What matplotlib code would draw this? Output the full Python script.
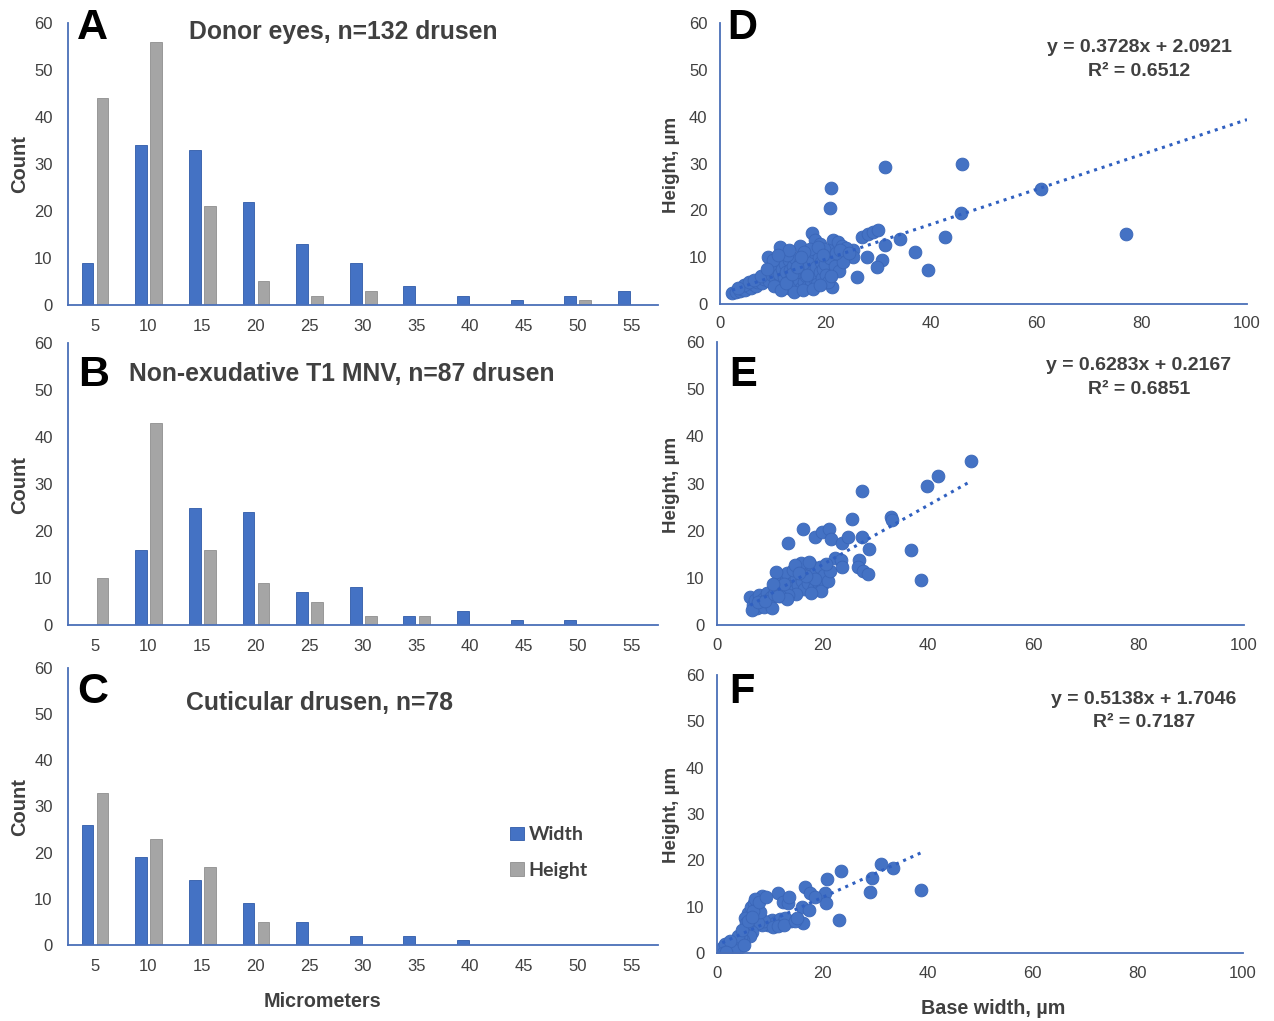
import matplotlib
matplotlib.use("Agg")
import matplotlib.pyplot as plt
import numpy as np

W, H = 1274, 1021

# ---------------- data ----------------
bins = [5, 10, 15, 20, 25, 30, 35, 40, 45, 50, 55]

a_width = [9, 34, 33, 22, 13, 9, 4, 2, 1, 2, 3]
a_height = [44, 56, 21, 5, 2, 3, 0, 0, 0, 1, 0]
b_width = [0, 16, 25, 24, 7, 8, 2, 3, 1, 1, 0]
b_height = [10, 43, 16, 9, 5, 2, 2, 0, 0, 0, 0]
c_width = [26, 19, 14, 9, 5, 2, 2, 1, 0, 0, 0]
c_height = [33, 23, 17, 5, 0, 0, 0, 0, 0, 0, 0]

bar_titles = ["Donor eyes, n=132 drusen",
              "Non-exudative T1 MNV, n=87 drusen",
              "Cuticular drusen, n=78"]

d_pts = [(31.3,29.3),(45.9,29.9),(21.1,24.8),(20.9,20.5),(45.7,19.4),(42.7,14.3),(39.5,7.3),
         (37.0,11.0),(34.2,13.9),(31.3,12.6),(30.7,9.4),(29.8,7.9),(27.9,10.0),(26.0,5.8),
         (25.2,11.5),(25.2,10.0),(27.0,14.2),(28.0,15.0),(29.0,15.4),(30.0,15.8),(17.5,15.2),
         (11.4,12.2),(15.2,12.4),(18.0,13.7),(19.0,12.8),(21.4,13.7),(22.3,13.2),(23.2,12.3),
         (20.5,11.5),(21.3,3.7),(9.1,10.0),(60.9,24.6),(77.0,15.0),
         (2.3,2.4),(3.0,2.6),(3.8,2.8),(4.2,3.3),(4.8,3.0),(5.3,3.8),(5.8,3.4),(6.2,4.2),
         (6.8,3.9),(7.1,4.6),(7.5,5.0),(8.0,4.4),(8.4,5.3),(8.8,5.8),(9.3,5.0),(4.5,4.0),
         (5.5,4.6),(6.5,5.2),(7.8,6.0),(3.5,3.5),
         (9.8,6.2),(10.2,7.0),(10.5,5.5),(10.8,8.0),(11.0,4.2),(11.2,6.5),(11.5,9.0),(11.8,7.5),
         (12.0,3.5),(12.2,5.8),(12.4,8.5),(12.6,6.8),(12.9,4.8),(13.1,9.5),(13.3,7.2),(13.5,3.2),
         (13.7,5.5),(13.9,8.2),(14.1,6.0),(14.3,9.8),(14.5,4.0),(14.7,7.6),(14.9,5.2),(15.1,8.8),
         (15.3,3.4),(15.5,6.6),(15.7,9.2),(15.9,4.6),(16.1,7.9),(16.3,5.9),(16.5,10.5),(16.7,3.8),
         (16.9,8.4),(17.1,6.3),(17.3,4.9),(17.5,9.6),(17.7,7.1),(17.9,11.0),(18.1,5.4),(18.3,8.0),
         (18.5,4.2),(18.7,10.1),(18.9,6.8),(19.1,9.0),(19.3,5.6),(19.5,7.5),(19.8,11.8),(20.0,8.6),
         (20.2,6.2),(20.4,4.6),(10.0,9.5),(12.8,10.5),(14.0,2.6),(15.8,2.9),(17.0,11.8),(18.6,12.2),
         (20.8,9.8),(21.8,8.2),(22.5,7.0),(23.4,9.0),(24.0,12.0),(22.0,10.8),(16.0,11.2),(13.0,11.5),
         (11.0,10.5),(9.0,7.5),(10.3,3.8),(11.6,2.9),(12.5,4.4),(13.6,6.4),(14.6,8.0),(15.4,10.0),
         (16.6,6.1),(17.6,3.3),(19.0,4.0),(19.6,10.5),(21.0,6.0),(22.8,11.6),(24.5,10.8)]

e_pts = [(48.2,34.8),(41.9,31.6),(39.8,29.5),(27.5,28.4),(33.0,22.9),(33.2,22.3),(25.6,22.5),
         (36.8,15.9),(38.7,9.5),(16.3,20.4),(13.5,17.4),(18.6,18.7),(19.9,19.7),(21.3,20.4),
         (21.6,18.2),(23.7,17.4),(24.9,18.7),(27.5,18.7),(28.8,16.1),(22.4,14.2),(23.5,13.8),
         (23.7,12.3),(26.9,13.8),(26.8,12.3),(27.7,11.4),(28.7,10.8),
         (6.3,6.0),(6.8,4.2),(7.2,5.2),(7.6,3.6),(8.0,6.4),(8.3,4.6),(8.7,5.6),(9.0,3.8),
         (9.4,6.8),(9.8,4.9),(10.2,5.9),(10.5,3.5),(6.6,3.2),(7.8,4.9),(9.1,5.0),(10.8,6.5),
         (11.0,7.8),(11.4,9.2),(11.8,8.4),(12.2,10.2),(12.6,7.4),(13.0,9.6),(13.3,11.0),(13.8,8.0),
         (14.2,9.0),(14.6,7.2),(15.0,10.0),(15.4,8.4),(15.8,12.4),(16.2,9.4),(16.6,7.6),(17.0,11.2),
         (17.3,8.8),(17.7,13.0),(18.0,10.2),(18.4,7.8),(18.8,11.6),(19.2,9.2),(19.6,12.4),(20.0,8.4),
         (20.3,10.6),(16.0,13.2),(17.4,13.4),(15.0,6.6),(13.5,6.4),(12.0,6.2),(11.2,11.2),(14.4,11.6),
         (18.6,9.8),(19.8,7.2),(21.0,9.4),(21.5,11.4),(20.6,13.0),(16.8,10.4),(14.8,12.8),(12.8,8.6),
         (13.2,5.6),(10.6,8.6),(11.6,6.2),(15.6,11.0),(17.8,6.8)]

f_pts = [(38.8,13.6),(33.5,18.3),(31.2,19.2),(29.5,16.2),(29.1,13.2),(23.6,17.7),(23.2,7.1),
         (20.9,16.0),(20.5,12.9),(20.7,10.8),(16.7,14.2),(17.7,12.9),(18.6,12.1),(16.2,9.9),
         (17.5,9.3),(16.3,6.5),(14.1,6.9),(11.6,12.9),(12.5,11.0),(13.5,10.8),(8.6,12.3),
         (9.7,6.0),(10.4,7.2),(11.2,6.6),(12.0,7.4),(12.4,6.2),(8.6,6.0),(9.0,7.0),(7.8,6.4),
         (5.9,8.6),(6.4,10.0),(7.0,10.8),(7.6,9.4),(8.2,8.8),(6.8,9.0),(5.3,7.6),(5.6,6.4),
         (6.0,5.2),(6.7,4.6),(5.4,4.0),(6.2,3.6),(5.0,2.8),(4.6,3.4),(4.2,2.4),(3.8,2.0),
         (3.4,1.6),(3.0,1.2),(2.6,0.8),(2.2,0.6),(1.8,1.0),(1.4,0.4),(1.2,1.4),(1.0,0.8),
         (2.0,1.8),(2.8,2.2),(3.6,2.8),(4.4,1.4),(1.6,2.0),(2.4,0.2),(1.2,0.0),(3.2,0.6),
         (4.0,3.6),(4.8,5.0),(5.8,7.0),(6.6,7.8),(7.2,11.6),(8.0,11.0),(9.4,12.0),(10.6,5.6),
         (11.6,5.8),(13.0,7.6),(12.8,6.0),(14.8,6.8),(15.2,7.6),(13.6,12.0),(2.4,2.6),(1.8,0.2),
         (5.2,1.8)]

fits = [(0.3728, 2.0921, 0.6512), (0.6283, 0.2167, 0.6851), (0.5138, 1.7046, 0.7187)]
fit_end = [100, 48.2, 38.8]

# ---------------- style ----------------
BLUE = "#4472C4"
GRAY = "#A5A5A5"
TXT = "#404040"
SPINE = "#4a6fb8"
FONT = "Liberation Sans"

fig = plt.figure(figsize=(W / 100, H / 100), dpi=100)
fig.patch.set_facecolor("white")


def px_axes(l, t, r, b):
    return fig.add_axes([l / W, 1 - b / H, (r - l) / W, (b - t) / H])


def ftext(x, y, s, **kw):
    return fig.text(x / W, 1 - y / H, s, **kw)


def style(ax):
    for s in ["top", "right"]:
        ax.spines[s].set_visible(False)
    for s in ["left", "bottom"]:
        ax.spines[s].set_color(SPINE)
        ax.spines[s].set_linewidth(1.3)
    ax.tick_params(length=0, labelsize=12, labelcolor=TXT)
    for lab in ax.get_xticklabels() + ax.get_yticklabels():
        lab.set_fontfamily(FONT)


bar_rects = [(68, 23, 658, 305), (68, 343, 658, 625), (68, 668, 658, 945)]
bar_data = [(a_width, a_height), (b_width, b_height), (c_width, c_height)]
letters_bar = ["A", "B", "C"]
letter_pos_bar = [(77, 28), (78, 375), (77, 692)]
title_pos = [(343, 32), (342, 374), (320, 703)]
count_y = [164, 485, 807]

x = np.arange(1, len(bins) + 1)
bw = 0.22
for i, (rect, (wv, hv)) in enumerate(zip(bar_rects, bar_data)):
    ax = px_axes(*rect)
    ax.bar(x - 0.135, wv, width=bw, color=BLUE, edgecolor="#2f5aa8", linewidth=0.6, label="Width")
    ax.bar(x + 0.145, hv, width=bw, color=GRAY, edgecolor="#8f8f8f", linewidth=0.6, label="Height")
    ax.set_xlim(0.5, len(bins) + 0.5)
    ax.set_ylim(0, 60)
    ax.set_yticks(range(0, 61, 10))
    ax.set_xticks(x)
    ax.set_xticklabels([str(b) for b in bins])
    style(ax)
    ax.tick_params(axis="x", pad=10)
    ax.tick_params(axis="y", pad=11)
    ftext(20, count_y[i], "Count", fontsize=14.5, fontweight="bold", color=TXT, family=FONT,
          rotation=90, va="center", ha="center")
    if i == 2:
        leg = ax.legend(loc="upper left", bbox_to_anchor=(0.72, 0.492), frameon=False,
                        handlelength=0.7, handleheight=0.7, handletextpad=0.25,
                        labelspacing=0.95,
                        prop={"family": "Lato", "weight": "bold", "size": 14})
        for t in leg.get_texts():
            t.set_color(TXT)
    lx, ly = letter_pos_bar[i]
    ftext(lx, ly, letters_bar[i], fontsize=31, fontweight="bold",
          color="black", family=FONT, va="center", ha="left")
    tx, ty = title_pos[i]
    ftext(tx, ty, bar_titles[i], fontsize=17.8, fontweight="bold",
          color=TXT, family=FONT, va="center", ha="center")

ftext(322, 1001, "Micrometers", fontsize=14.2, fontweight="bold", color=TXT, family=FONT,
      va="center", ha="center")

sc_rects = [(720, 23, 1247, 304), (717, 342, 1244, 625), (717, 675, 1243, 953)]
sc_data = [d_pts, e_pts, f_pts]
letters_sc = ["D", "E", "F"]
letter_pos_sc = [(727, 28), (729, 375), (729, 692)]
eq_pos = [(1139, 48, 72), (1139, 366, 389), (1144, 699, 722)]
hlab_y = [165, 485, 815]

for i, (rect, pts) in enumerate(zip(sc_rects, sc_data)):
    ax = px_axes(*rect)
    xs = [p[0] for p in pts]
    ys = [p[1] for p in pts]
    m, c, r2 = fits[i]
    xl = np.array([min(xs), fit_end[i]])
    ax.plot(xl, m * xl + c, linestyle=(0, (1, 1.6)), color="#3060c0", linewidth=2.2, zorder=3)
    ax.scatter(xs, ys, s=85, color=BLUE, edgecolor="#3a66b8", linewidth=0.6, zorder=2)
    ax.set_xlim(0, 100)
    ax.set_ylim(0, 60)
    ax.set_xticks(range(0, 101, 20))
    ax.set_yticks(range(0, 61, 10))
    style(ax)
    ax.tick_params(axis="x", pad=9)
    ax.tick_params(axis="y", pad=9)
    ftext(672, hlab_y[i], "Height, µm", fontsize=13.5, fontweight="bold", color=TXT, family=FONT,
          rotation=90, va="center", ha="center")
    lx, ly = letter_pos_sc[i]
    ftext(lx, ly, letters_sc[i], fontsize=30, fontweight="bold",
          color="black", family=FONT, va="center", ha="left")
    ex, ey1, ey2 = eq_pos[i]
    ftext(ex, ey1, f"y = {m:.4f}x + {c:.4f}", fontsize=14, fontweight="bold",
          color=TXT, family=FONT, va="center", ha="center")
    ftext(ex, ey2, f"R² = {r2:.4f}", fontsize=14, fontweight="bold",
          color=TXT, family=FONT, va="center", ha="center")

ftext(993, 1008, "Base width, µm", fontsize=14.2, fontweight="bold", color=TXT, family=FONT,
      va="center", ha="center")

fig.savefig("out.png", dpi=100, facecolor="white")
